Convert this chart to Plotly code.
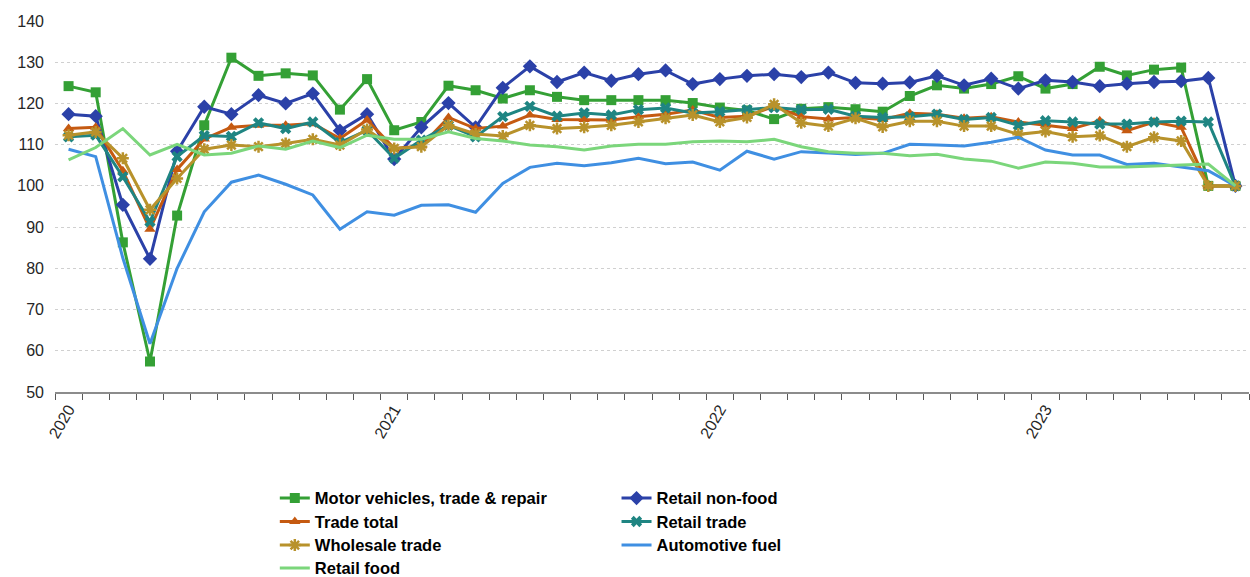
import plotly.graph_objects as go

# Monthly index, Jan 2020 - Aug 2023
months = [
    "2020-01", "2020-02", "2020-03", "2020-04", "2020-05", "2020-06", "2020-07", "2020-08",
    "2020-09", "2020-10", "2020-11", "2020-12",
    "2021-01", "2021-02", "2021-03", "2021-04", "2021-05", "2021-06", "2021-07", "2021-08",
    "2021-09", "2021-10", "2021-11", "2021-12",
    "2022-01", "2022-02", "2022-03", "2022-04", "2022-05", "2022-06", "2022-07", "2022-08",
    "2022-09", "2022-10", "2022-11", "2022-12",
    "2023-01", "2023-02", "2023-03", "2023-04", "2023-05", "2023-06", "2023-07", "2023-08",
]
year_labels = {"2020-01": "2020", "2021-01": "2021", "2022-01": "2022", "2023-01": "2023"}

motor_vehicles = [124.2, 122.7, 86.3, 57.4, 92.8, 114.7, 131.1, 126.7, 127.3, 126.8, 118.5, 125.9,
                  113.5, 115.5, 124.3, 123.2, 121.2, 123.2, 121.6, 120.8, 120.8, 120.8, 120.8, 120.1,
                  119.0, 118.3, 116.2, 118.7, 119.1, 118.6, 118.0, 121.8, 124.4, 123.6, 124.7, 126.6,
                  123.6, 124.7, 128.9, 126.8, 128.2, 128.7, 100.0, 100.0]
retail_non_food = [117.4, 116.9, 95.4, 82.3, 108.4, 119.2, 117.4, 122.0, 120.0, 122.4, 113.4, 117.4,
                   106.5, 114.2, 120.1, 114.2, 123.8, 129.0, 125.2, 127.5, 125.5, 127.1, 128.0, 124.7,
                   125.9, 126.7, 127.1, 126.4, 127.5, 125.0, 124.8, 125.1, 126.7, 124.4, 126.0, 123.6,
                   125.6, 125.2, 124.2, 124.8, 125.2, 125.4, 126.2, 100.0]
trade_total = [113.9, 114.2, 103.7, 89.5, 104.0, 111.4, 114.2, 114.7, 114.7, 115.1, 111.5, 116.0,
               109.1, 109.7, 116.6, 113.9, 114.5, 117.2, 116.1, 116.1, 116.0, 116.8, 117.4, 118.4,
               116.6, 116.9, 119.3, 116.8, 116.2, 116.6, 116.1, 117.6, 117.4, 116.4, 116.8, 115.5,
               114.7, 113.9, 115.8, 113.4, 115.5, 114.2, 100.0, 100.0]
retail_trade = [111.9, 112.3, 102.2, 91.3, 107.1, 112.2, 112.0, 115.3, 113.9, 115.5, 110.5, 113.5,
                106.7, 111.1, 114.7, 111.9, 116.8, 119.3, 116.9, 117.7, 117.2, 118.5, 118.9, 117.7,
                118.0, 118.5, 119.0, 118.5, 118.6, 116.9, 116.6, 116.8, 117.4, 116.1, 116.6, 114.7,
                115.8, 115.5, 115.0, 115.0, 115.5, 115.7, 115.5, 100.0]
wholesale_trade = [112.3, 113.1, 106.7, 94.2, 101.8, 108.9, 109.9, 109.5, 110.3, 111.3, 109.9, 113.7,
                   109.1, 109.5, 114.7, 112.6, 112.1, 114.7, 113.9, 114.2, 114.7, 115.5, 116.4, 117.2,
                   115.5, 116.6, 119.8, 115.3, 114.5, 116.4, 114.3, 115.7, 115.7, 114.5, 114.5, 112.5,
                   113.2, 111.9, 112.2, 109.5, 111.8, 110.9, 100.0, 100.0]
automotive_fuel = [108.9, 107.1, 82.5, 61.7, 80.0, 93.7, 100.9, 102.6, 100.4, 97.8, 89.5, 93.7,
                   92.9, 95.3, 95.4, 93.6, 100.6, 104.5, 105.5, 104.9, 105.6, 106.7, 105.4, 105.8,
                   103.8, 108.4, 106.5, 108.3, 108.0, 107.6, 107.9, 110.1, 109.9, 109.7, 110.6, 111.8,
                   108.7, 107.5, 107.5, 105.2, 105.5, 104.6, 103.7, 100.0]
retail_food = [106.3, 109.3, 113.9, 107.5, 110.1, 107.5, 107.9, 109.7, 108.9, 110.9, 109.3, 112.3,
               111.3, 111.3, 113.1, 111.5, 110.9, 109.9, 109.5, 108.7, 109.7, 110.1, 110.1, 110.7,
               110.9, 110.7, 111.3, 109.5, 108.3, 107.9, 107.9, 107.3, 107.7, 106.5, 106.0, 104.3,
               105.8, 105.5, 104.6, 104.6, 104.8, 105.1, 105.3, 100.0]

series = [
    # name, values, colour, marker symbol, marker size, legend (column, row)
    ("Motor vehicles, trade & repair", motor_vehicles, "#34a035", "square", 10, (0, 0)),
    ("Retail non-food", retail_non_food, "#2b41a8", "diamond", 11, (1, 0)),
    ("Trade total", trade_total, "#c55a11", "triangle-up", 10, (0, 1)),
    ("Retail trade", retail_trade, "#1f8582", "x", 10, (1, 1)),
    ("Wholesale trade", wholesale_trade, "#b8922b", "asterisk", 10, (0, 2)),
    ("Automotive fuel", automotive_fuel, "#3f8fe2", None, 0, (1, 2)),
    ("Retail food", retail_food, "#7bd67b", None, 0, (0, 3)),
]

tick_font = dict(family="Liberation Sans, Arial, sans-serif", size=16, color="#262626")
legend_font = dict(family="Liberation Sans, Arial, sans-serif", size=16.5, color="#000000",
                   weight="bold")

# Plot area geometry (pixels) used to place the legend grid below the chart
plot_left, plot_width = 55, 1195
plot_bottom, plot_height = 392, 371
col_left = [275, 617]
row_center = [498, 521.5, 545, 568]

fig = go.Figure()
legends = {}
for i, (name, vals, color, symbol, msize, (col, row)) in enumerate(series):
    leg_id = "legend" if i == 0 else f"legend{i + 1}"
    if symbol is None:
        mode = "lines"
        marker = dict()
    else:
        mode = "lines+markers"
        marker = dict(symbol=symbol, size=msize, color=color,
                      line=dict(color=color, width=2.5 if symbol == "asterisk" else 0))
    fig.add_trace(go.Scatter(
        x=months, y=vals, name=name, mode=mode,
        line=dict(color=color, width=3),
        marker=marker, legend=leg_id,
    ))
    top = row_center[row] - 17.2
    legends[leg_id] = dict(
        x=(col_left[col] - plot_left) / plot_width,
        y=(plot_bottom - top) / plot_height,
        xanchor="left", yanchor="top",
        orientation="v", font=legend_font, bgcolor="rgba(0,0,0,0)",
    )

fig.update_layout(
    width=1250, height=577,
    margin=dict(l=55, r=1, t=21, b=185, autoexpand=False),
    plot_bgcolor="white", paper_bgcolor="white",
    font=tick_font,
    xaxis=dict(
        type="category",
        range=[-0.5, len(months) - 0.5],
        autorange=False,
        automargin=False,
        tickmode="array",
        tickvals=months,
        ticktext=[year_labels.get(m, "") for m in months],
        tickson="boundaries",
        ticks="outside", ticklen=6, tickcolor="#595959", tickwidth=1,
        tickangle=-60,
        showline=True, linecolor="#8c8c8c", linewidth=1.5,
        showgrid=False, zeroline=False,
        tickfont=tick_font,
    ),
    yaxis=dict(
        range=[50, 140], dtick=10, tick0=50,
        automargin=False,
        showgrid=True, gridcolor="#d0d0d0", griddash="dot", gridwidth=1,
        zeroline=False, showline=False,
        ticks="", ticklabelstandoff=10,
        tickfont=tick_font,
    ),
    showlegend=True,
    **legends,
)

fig.write_html("out.html")
